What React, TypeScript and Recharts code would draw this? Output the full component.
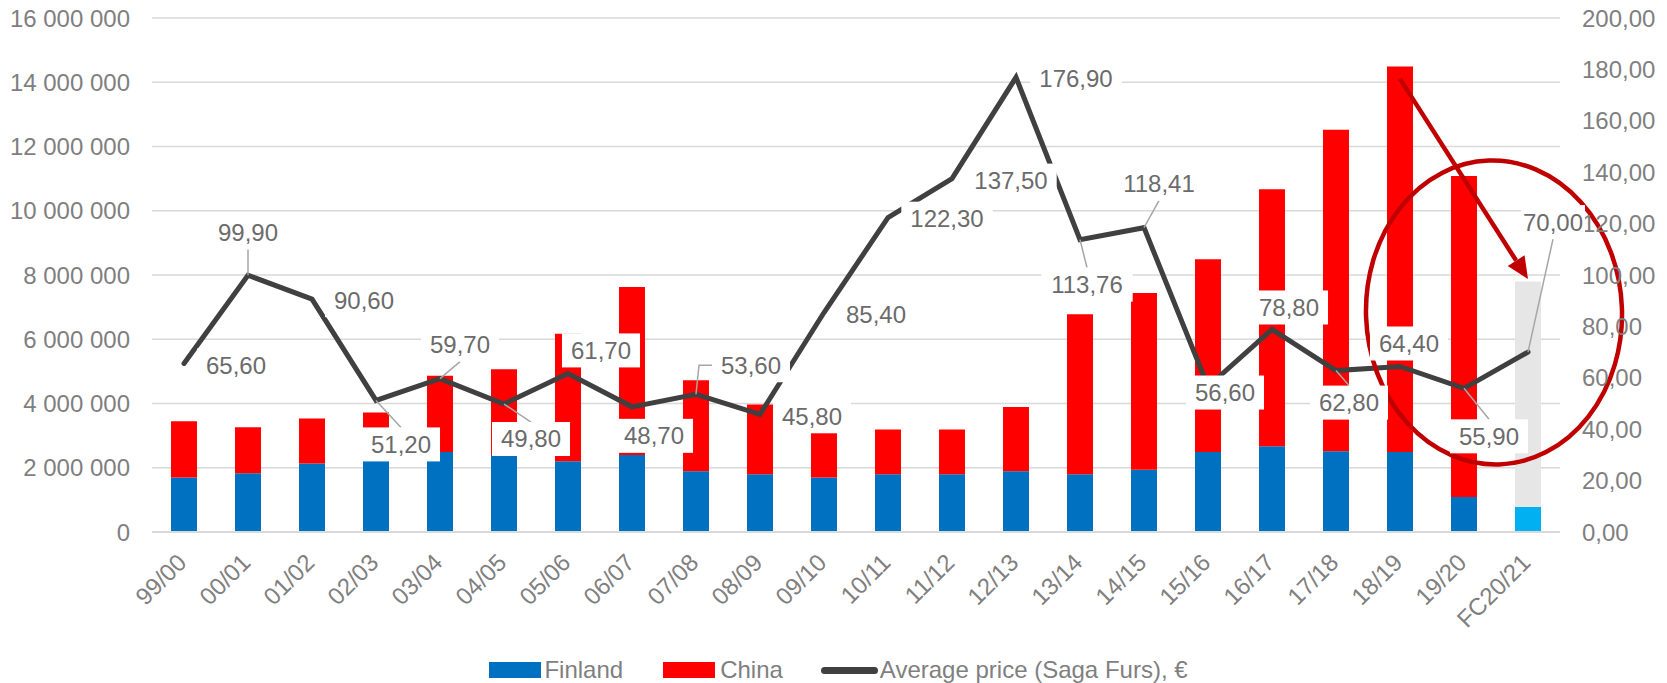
import {
  Bar,
  CartesianGrid,
  Cell,
  ComposedChart,
  Legend,
  Line,
  ReferenceDot,
  ReferenceLine,
  XAxis,
  YAxis,
} from "recharts";

const seasons = [
  "99/00", "00/01", "01/02", "02/03", "03/04", "04/05", "05/06", "06/07", "07/08", "08/09", "09/10",
  "10/11", "11/12", "12/13", "13/14", "14/15", "15/16", "16/17", "17/18", "18/19", "19/20", "FC20/21",
];
const finland = [
  1700000, 1830000, 2130000, 2250000, 2490000, 2400000, 2200000, 2400000, 1890000, 1800000, 1700000,
  1800000, 1800000, 1890000, 1800000, 1940000, 2490000, 2670000, 2510000, 2490000, 1090000, 780000,
];
const china = [
  1750000, 1430000, 1400000, 1470000, 2370000, 2670000, 3970000, 5230000, 2830000, 2170000, 1390000,
  1390000, 1390000, 2000000, 4980000, 5500000, 6000000, 8000000, 10010000, 12000000, 9990000, 7020000,
];
const avgPrice = [
  65.6, 99.9, 90.6, 51.2, 59.7, 49.8, 61.7, 48.7, 53.6, 45.8, 85.4,
  122.3, 137.5, 176.9, 113.76, 118.41, 56.6, 78.8, 62.8, 64.4, 55.9, 70.0,
];
const leftTicks = [0, 2000000, 4000000, 6000000, 8000000, 10000000, 12000000, 14000000, 16000000];
const rightTicks = [0, 20, 40, 60, 80, 100, 120, 140, 160, 180, 200];

// label placement (text centre relative to the point), as Excel had them dragged
const labelOffsets: [number, number][] = [
  [52, 2], [0, -43], [52, 1], [25, 44], [20, -34], [27, 35], [33, -23], [22, 29], [55, -29], [52, 2], [52, 2],
  [59, 1], [59, 2], [60, 1], [7, 45], [15, -44], [17, 6], [17, -22], [13, 32], [9, -23], [25, 48], [25, -130],
];
const withLeader = [1, 3, 4, 5, 8, 14, 15, 18, 20, 21];

const FONT = '"Liberation Sans", Arial, sans-serif';
const GREY = "#7f7f7f";
const BLUE = "#0070C0";
const RED = "#FF0000";
const DARK = "#404040";
const ANNOT = "#C00000";

const data = seasons.map((season, i) => ({
  season,
  finland: finland[i],
  china: china[i],
  price: avgPrice[i],
}));

const fmtThousands = (v: number) => String(v).replace(/\B(?=(\d{3})+(?!\d))/g, " ");
const fmtPrice = (v: number) => v.toFixed(2).replace(".", ",");
const textWidth = (s: string, size = 24) =>
  s.split("").reduce((w, c) => w + (c === "," ? 0.278 : 0.556), 0) * size;

function PriceLabel(props: any) {
  const { x, y, value, index } = props;
  if (x == null || y == null || index == null) return null;
  const [dx, dy] = labelOffsets[index];
  const text = fmtPrice(Number(value));
  const last = index === avgPrice.length - 1;
  const w = textWidth(text) + (last ? 4 : 18);
  const h = 34;
  const cx = x + dx;
  const cy = y + dy;
  const left = cx - w / 2;
  const top = cy - h / 2;
  let leader = null;
  if (withLeader.includes(index)) {
    if (x >= left && x <= left + w) {
      const ey = dy < 0 ? top + h : top;
      leader = <line x1={x} y1={y} x2={cx} y2={ey} stroke="#a6a6a6" strokeWidth={1.5} />;
    } else {
      leader = (
        <polyline
          points={`${x},${y} ${x + 3},${cy} ${left},${cy}`}
          fill="none"
          stroke="#a6a6a6"
          strokeWidth={1.5}
        />
      );
    }
  }
  return (
    <g>
      {leader}
      <rect x={left} y={top} width={w} height={h} fill="#ffffff" />
      <text x={cx} y={cy} dy="0.35em" textAnchor="middle" fill="#6b6b6b" fontSize={24} fontFamily={FONT}>
        {text}
      </text>
    </g>
  );
}

function SeasonTick(props: any) {
  const { x, y, payload } = props;
  return (
    <g transform={`translate(${x + 4},${y + 30})`}>
      <text x={0} y={0} textAnchor="end" transform="rotate(-45)" fill={GREY} fontSize={24} fontFamily={FONT}>
        {payload.value}
      </text>
    </g>
  );
}

function Arrow(props: any) {
  const { x1, y1, x2, y2 } = props;
  if (x1 == null) return null;
  const ang = Math.atan2(y2 - y1, x2 - x1);
  const len = 22;
  const half = 10;
  const bx = x2 - len * Math.cos(ang);
  const by = y2 - len * Math.sin(ang);
  const px = -Math.sin(ang) * half;
  const py = Math.cos(ang) * half;
  return (
    <g>
      <line x1={x1} y1={y1} x2={bx} y2={by} stroke={ANNOT} strokeWidth={4.5} />
      <polygon points={`${x2},${y2} ${bx + px},${by + py} ${bx - px},${by - py}`} fill={ANNOT} />
    </g>
  );
}

function Ring(props: any) {
  const { cx, cy } = props;
  if (cx == null) return null;
  return (
    <ellipse
      cx={cx + 30}
      cy={cy}
      rx={128}
      ry={152}
      fill="none"
      stroke={ANNOT}
      strokeWidth={4.5}
      transform={`rotate(-2 ${cx + 30} ${cy})`}
    />
  );
}

function LegendRow() {
  const txt = { color: GREY, fontSize: 24, fontFamily: FONT, lineHeight: "26px" };
  return (
    <div style={{ display: "flex", justifyContent: "center", alignItems: "center", height: 26, paddingLeft: 10 }}>
      <span style={{ width: 52, height: 16, background: BLUE, marginRight: 3 }} />
      <span style={txt}>Finland</span>
      <span style={{ width: 52, height: 16, background: RED, marginLeft: 40, marginRight: 5 }} />
      <span style={txt}>China</span>
      <span style={{ width: 57, height: 7, borderRadius: 4, background: DARK, marginLeft: 38, marginRight: 2 }} />
      <span style={txt}>Average price (Saga Furs), €</span>
    </div>
  );
}

export default function App() {
  return (
    <div style={{ position: "absolute", top: 0, left: 0, background: "#fff" }}>
      <ComposedChart
        width={1667}
        height={683}
        data={data}
        margin={{ top: 18, right: 0, left: 0, bottom: 0 }}
        barSize={26}
      >
        <CartesianGrid yAxisId="left" vertical={false} stroke="#d9d9d9" strokeWidth={1.5} />
        <XAxis
          dataKey="season"
          interval={0}
          height={125}
          tickLine={false}
          tickSize={0}
          axisLine={{ stroke: "#d9d9d9", strokeWidth: 2 }}
          tick={<SeasonTick />}
        />
        <YAxis
          yAxisId="left"
          width={152}
          domain={[0, 16000000]}
          ticks={leftTicks}
          tickFormatter={fmtThousands}
          axisLine={false}
          tickLine={false}
          tickSize={0}
          tickMargin={22}
          tick={{ fill: GREY, fontSize: 24, fontFamily: FONT }}
        />
        <YAxis
          yAxisId="right"
          orientation="right"
          width={107}
          domain={[0, 200]}
          ticks={rightTicks}
          tickFormatter={fmtPrice}
          axisLine={false}
          tickLine={false}
          tickSize={0}
          tickMargin={22}
          tick={{ fill: GREY, fontSize: 24, fontFamily: FONT }}
        />
        <Legend verticalAlign="bottom" height={26} content={<LegendRow />} />
        <Bar yAxisId="left" dataKey="finland" stackId="a" isAnimationActive={false}>
          {data.map((_, i) => (
            <Cell key={i} fill={i === data.length - 1 ? "#00B0F0" : BLUE} />
          ))}
        </Bar>
        <Bar yAxisId="left" dataKey="china" stackId="a" isAnimationActive={false}>
          {data.map((_, i) => (
            <Cell key={i} fill={i === data.length - 1 ? "#E7E6E6" : RED} />
          ))}
        </Bar>
        <Line
          yAxisId="right"
          type="linear"
          dataKey="price"
          stroke={DARK}
          strokeWidth={5}
          strokeLinecap="round"
          dot={false}
          activeDot={false}
          isAnimationActive={false}
          label={(p: any) => <PriceLabel {...p} />}
        />
        <ReferenceLine
          yAxisId="right"
          segment={[
            { x: "18/19", y: 176.3 },
            { x: "FC20/21", y: 98.4 },
          ]}
          shape={(p: any) => <Arrow {...p} />}
        />
        <ReferenceDot
          yAxisId="right"
          x="19/20"
          y={85.4}
          r={1}
          shape={(p: any) => <Ring {...p} />}
        />
      </ComposedChart>
    </div>
  );
}
